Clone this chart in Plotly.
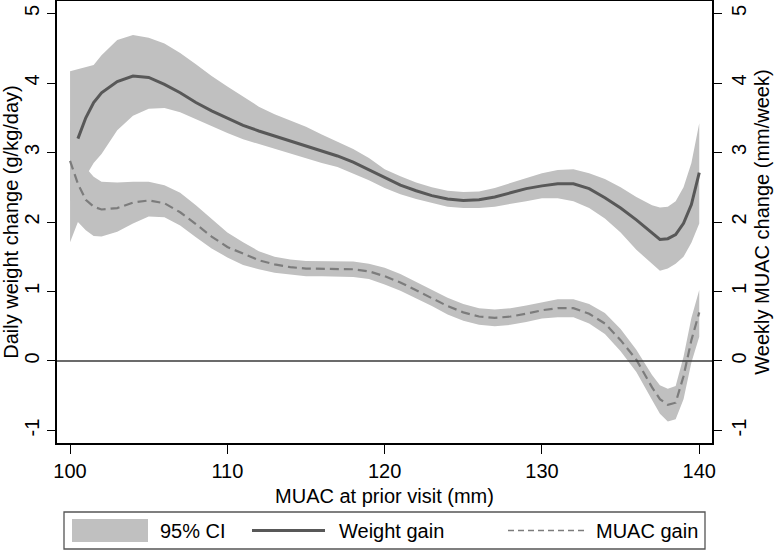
import plotly.graph_objects as go

# MUAC at prior visit (mm)
muac_x = [100, 100.5, 101, 101.5, 102, 103, 104, 105, 106, 107, 108, 109, 110,
          111, 112, 113, 114, 115, 116, 117, 118, 119, 120, 121, 122, 123, 124,
          125, 126, 127, 128, 129, 130, 131, 132, 133, 134, 135, 136, 137,
          137.5, 138, 138.5, 139, 139.5, 140]

# Daily weight change (g/kg/day)
weight_gain = [None, 3.20, 3.50, 3.72, 3.86, 4.02, 4.10, 4.08, 3.98, 3.86, 3.72, 3.60, 3.49,
               3.39, 3.31, 3.24, 3.17, 3.10, 3.02, 2.95, 2.86, 2.75, 2.63, 2.53, 2.45, 2.38, 2.33,
               2.31, 2.32, 2.36, 2.42, 2.48, 2.52, 2.55, 2.55, 2.48, 2.35, 2.20, 2.03, 1.85,
               1.75, 1.76, 1.82, 1.98, 2.25, 2.71]
weight_hi = [4.17, 4.20, 4.22, 4.26, 4.40, 4.62, 4.69, 4.65, 4.57, 4.43, 4.27, 4.10, 3.95,
             3.80, 3.66, 3.55, 3.46, 3.37, 3.26, 3.15, 3.05, 2.92, 2.76, 2.66, 2.57, 2.50, 2.45,
             2.43, 2.44, 2.49, 2.56, 2.64, 2.70, 2.75, 2.76, 2.70, 2.62, 2.50, 2.36, 2.24,
             2.21, 2.22, 2.30, 2.50, 2.85, 3.42]
weight_lo = [2.30, 2.40, 2.66, 2.85, 2.98, 3.32, 3.53, 3.63, 3.64, 3.58, 3.49, 3.38, 3.28,
             3.19, 3.13, 3.05, 2.98, 2.92, 2.85, 2.79, 2.70, 2.60, 2.49, 2.40, 2.33, 2.27, 2.22,
             2.20, 2.20, 2.22, 2.26, 2.30, 2.34, 2.34, 2.30, 2.20, 2.05, 1.85, 1.60, 1.40,
             1.30, 1.33, 1.40, 1.50, 1.70, 1.98]

# Weekly MUAC change (mm/week)
muac_gain = [2.88, 2.55, 2.32, 2.22, 2.18, 2.20, 2.28, 2.31, 2.27, 2.14, 1.97, 1.79, 1.64,
             1.54, 1.45, 1.39, 1.35, 1.33, 1.33, 1.33, 1.32, 1.29, 1.22, 1.13, 1.02, 0.91, 0.79,
             0.70, 0.64, 0.62, 0.64, 0.68, 0.73, 0.76, 0.76, 0.68, 0.54, 0.30, 0.02, -0.38,
             -0.55, -0.63, -0.60, -0.22, 0.30, 0.70]
muac_hi = [3.47, 3.10, 2.78, 2.65, 2.58, 2.57, 2.58, 2.58, 2.53, 2.42, 2.24, 2.05, 1.85,
           1.71, 1.58, 1.50, 1.46, 1.44, 1.44, 1.44, 1.43, 1.40, 1.34, 1.25, 1.14, 1.03, 0.91,
           0.82, 0.76, 0.74, 0.76, 0.80, 0.85, 0.89, 0.89, 0.82, 0.69, 0.46, 0.16, -0.20,
           -0.35, -0.40, -0.36, 0.06, 0.62, 1.02]
muac_lo = [1.71, 2.00, 1.88, 1.80, 1.79, 1.86, 1.98, 2.08, 2.07, 1.95, 1.78, 1.62, 1.49,
           1.38, 1.32, 1.27, 1.24, 1.22, 1.22, 1.22, 1.21, 1.18, 1.10, 1.01, 0.90, 0.79, 0.67,
           0.58, 0.52, 0.50, 0.52, 0.56, 0.61, 0.63, 0.63, 0.54, 0.39, 0.14, -0.16, -0.56,
           -0.76, -0.87, -0.84, -0.55, -0.02, 0.35]

x_ticks = [100, 110, 120, 130, 140]
y_ticks = [-1, 0, 1, 2, 3, 4, 5]
y_tick_text = ["-1", "0", "1", "2", "3", "4", "5"]
legend_labels = ["95% CI", "Weight gain", "MUAC gain"]

FONT = "Arial, 'Liberation Sans', sans-serif"
BAND = "#c0c0c0"
WCOL = "#585858"
MCOL = "#7c7c7c"
YR = [-1.18, 5.18]

fig = go.Figure()
fig.add_trace(go.Scatter(x=muac_x + muac_x[::-1], y=weight_hi + weight_lo[::-1],
                         fill="toself", fillcolor=BAND, line=dict(width=0),
                         mode="lines", hoverinfo="skip", showlegend=False))
fig.add_trace(go.Scatter(x=muac_x + muac_x[::-1], y=muac_hi + muac_lo[::-1],
                         fill="toself", fillcolor=BAND, line=dict(width=0),
                         mode="lines", hoverinfo="skip", showlegend=False, yaxis="y2"))
fig.add_trace(go.Scatter(x=muac_x, y=weight_gain, mode="lines",
                         line=dict(color=WCOL, width=3), showlegend=False))
fig.add_trace(go.Scatter(x=muac_x, y=muac_gain, mode="lines",
                         line=dict(color=MCOL, width=2.2, dash="9px,5px"),
                         showlegend=False, yaxis="y2"))

axis_common = dict(showgrid=False, zeroline=False, showline=True, linecolor="black",
                   linewidth=1.5, ticks="outside", tickcolor="black", tickwidth=1.3,
                   automargin=False,
                   tickfont=dict(size=20, color="black", family=FONT))

fig.update_layout(
    width=774, height=550,
    margin=dict(l=57, r=62, t=1, b=107, autoexpand=False),
    plot_bgcolor="white", paper_bgcolor="white",
    font=dict(family=FONT, size=20, color="black"),
    xaxis=dict(range=[99.17, 140.81], tickvals=x_ticks, ticklen=9, mirror=True,
               title=dict(text="MUAC at prior visit (mm)", standoff=8,
                          font=dict(size=20)), **axis_common),
    yaxis=dict(range=YR, tickvals=y_ticks, ticktext=y_tick_text, ticklen=8, tickangle=-90,
               title=dict(text="Daily weight change (g/kg/day)", standoff=6,
                          font=dict(size=20)), **axis_common),
    yaxis2=dict(range=YR, tickvals=y_ticks, ticktext=y_tick_text, ticklen=8, tickangle=-90,
                overlaying="y", side="right", anchor="x",
                title=dict(text="Weekly MUAC change (mm/week)", standoff=6,
                           font=dict(size=20)), **axis_common),
    showlegend=False,
)

# zero reference line
fig.add_shape(type="line", xref="paper", x0=0, x1=1, yref="y", y0=0, y1=0,
              line=dict(color="#3a3a3a", width=1.5), layer="above")

# legend box (pixel -> paper conversion)
def px(xp):
    return (xp - 57) / 655.0

def py(yp):
    return (443 - yp) / 442.0

fig.add_shape(type="rect", xref="paper", yref="paper", x0=px(64), x1=px(705),
              y0=py(549), y1=py(512), line=dict(color="#555555", width=1.3),
              fillcolor="white")
fig.add_shape(type="rect", xref="paper", yref="paper", x0=px(72), x1=px(148),
              y0=py(542), y1=py(519), line=dict(width=0), fillcolor=BAND)
fig.add_shape(type="line", xref="paper", yref="paper", x0=px(252), x1=px(325),
              y0=py(530.5), y1=py(530.5), line=dict(color=WCOL, width=3))
fig.add_shape(type="line", xref="paper", yref="paper", x0=px(508), x1=px(587),
              y0=py(530.5), y1=py(530.5), line=dict(color=MCOL, width=1.6, dash="6px,4px"))
for xl, txt in zip([158, 337, 594], legend_labels):
    fig.add_annotation(xref="paper", yref="paper", x=px(xl), y=py(531), text=txt,
                       showarrow=False, xanchor="left", yanchor="middle",
                       font=dict(size=20, color="black", family=FONT))

fig.write_html("out.html", config={"displayModeBar": False},
               post_script="document.body.style.margin='0px';document.body.style.overflow='hidden';")
